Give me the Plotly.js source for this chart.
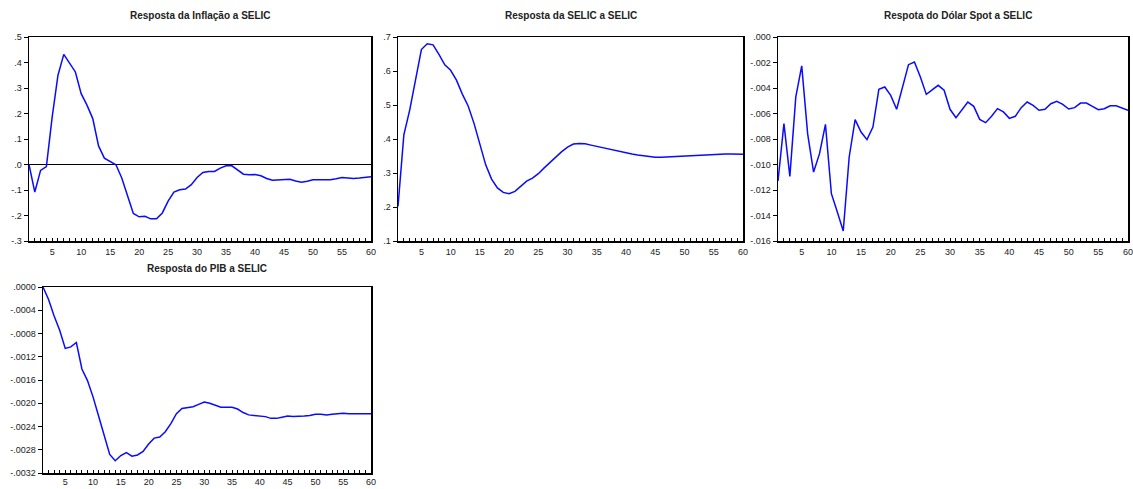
<!DOCTYPE html>
<html>
<head>
<meta charset="utf-8">
<script src="https://cdn.plot.ly/plotly-3.0.1.min.js"></script>
<style>html,body{margin:0;padding:0;background:#fff;}#chart{width:1133px;height:489px;}</style>
</head>
<body>
<div id="chart"></div>
<script>
const periods = Array.from({length: 60}, (_, i) => i + 1);
const xTickLabels = ["5","10","15","20","25","30","35","40","45","50","55","60"];

const titles = ["Resposta da Inflação a SELIC", "Resposta da SELIC a SELIC", "Respota do Dólar Spot a SELIC", "Resposta do PIB a SELIC"];

const inflacao = [0.0,-0.108,-0.023,-0.008,0.187,0.35,0.432,0.395,0.363,0.278,0.233,0.18,0.073,0.025,0.012,-0.001,-0.053,-0.125,-0.192,-0.205,
  -0.203,-0.213,-0.213,-0.19,-0.144,-0.108,-0.099,-0.096,-0.079,-0.051,-0.031,-0.027,-0.027,-0.014,-0.005,-0.005,-0.021,-0.038,-0.04,-0.039,
  -0.044,-0.055,-0.062,-0.061,-0.06,-0.058,-0.065,-0.07,-0.066,-0.06,-0.06,-0.061,-0.06,-0.056,-0.051,-0.053,-0.055,-0.053,-0.051,-0.048];

const selic = [0.202,0.412,0.485,0.573,0.663,0.680,0.677,0.649,0.618,0.602,0.573,0.532,0.497,0.446,0.383,0.324,0.282,0.256,0.243,0.239,
  0.246,0.261,0.276,0.285,0.298,0.315,0.332,0.349,0.363,0.376,0.385,0.387,0.386,0.382,0.378,0.375,0.371,0.366,0.362,0.359,
  0.356,0.353,0.350,0.348,0.346,0.346,0.347,0.348,0.349,0.350,0.351,0.353,0.354,0.354,0.355,0.356,0.356,0.356,0.356,0.355];

const dolar = [-0.01129,-0.0068,-0.01093,-0.0047,-0.00227,-0.0076,-0.01059,-0.00915,-0.00685,-0.01229,-0.01373,-0.01522,-0.00941,-0.00648,-0.00745,-0.00805,-0.00706,-0.0041,-0.00392,-0.00458,
  -0.00567,-0.00392,-0.00217,-0.00196,-0.00314,-0.0045,-0.00413,-0.00379,-0.00418,-0.00567,-0.00633,-0.00575,-0.0051,-0.00544,-0.00646,-0.00672,-0.00622,-0.00562,-0.00588,-0.00638,
  -0.00622,-0.00554,-0.0051,-0.00536,-0.00575,-0.00567,-0.00523,-0.00505,-0.00528,-0.00565,-0.00554,-0.00518,-0.00518,-0.00544,-0.0057,-0.00562,-0.00539,-0.00539,-0.0056,-0.00575];

const pib = [0.0,-0.000216,-0.0005,-0.000745,-0.001057,-0.00103,-0.000955,-0.00141,-0.00161,-0.00189,-0.00222,-0.00253,-0.00288,-0.00299,-0.0029,-0.00285,-0.00291,-0.00289,-0.00283,-0.0027,
  -0.0026,-0.00258,-0.00249,-0.00235,-0.00218,-0.00209,-0.00207,-0.00206,-0.00202,-0.00198,-0.002,-0.00204,-0.00207,-0.00207,-0.00207,-0.0021,-0.00216,-0.0022,-0.00221,-0.00221,
  -0.00223,-0.00226,-0.00226,-0.00224,-0.00222,-0.00223,-0.00223,-0.00222,-0.00221,-0.00219,-0.00219,-0.0022,-0.00219,-0.00218,-0.00217,-0.00218,-0.00218,-0.00218,-0.00218,-0.00218];

const yTicks1 = [0.5,0.4,0.3,0.2,0.1,0.0,-0.1,-0.2,-0.3];
const yText1 = [".5",".4",".3",".2",".1",".0","-.1","-.2","-.3"];
const yTicks2 = [0.7,0.6,0.5,0.4,0.3,0.2,0.1];
const yText2 = [".7",".6",".5",".4",".3",".2",".1"];
const yTicks3 = [0,-0.002,-0.004,-0.006,-0.008,-0.010,-0.012,-0.014,-0.016];
const yText3 = [".000","-.002","-.004","-.006","-.008","-.010","-.012","-.014","-.016"];
const yTicks4 = [0,-0.0004,-0.0008,-0.0012,-0.0016,-0.0020,-0.0024,-0.0028,-0.0032];
const yText4 = [".0000","-.0004","-.0008","-.0012","-.0016","-.0020","-.0024","-.0028","-.0032"];

const W = 1133, H = 489;
const font = "Liberation Sans, Arial, sans-serif";
const xt = periods.map(p => xTickLabels.includes(String(p)) ? String(p) : "");

function px(a, b) { return [a / W, b / W]; }
function py(top, bottom) { return [1 - bottom / H, 1 - top / H]; }

function xaxis(dom, anchor, standoff) {
  return {domain: dom, anchor: anchor, range: [1, 60], tickvals: periods, ticktext: xt,
    ticks: "inside", ticklen: 3, tickwidth: 1, tickcolor: "#000", showgrid: false, zeroline: false,
    showline: true, mirror: true, linecolor: "#000", linewidth: 1.5,
    ticklabeloverflow: "allow", ticklabelstandoff: standoff,
    tickfont: {family: font, size: 9, color: "#222"}, fixedrange: true};
}
function yaxis(dom, anchor, range, tv, tt, zl) {
  return {domain: dom, anchor: anchor, range: range, tickvals: tv, ticktext: tt,
    ticks: "outside", ticklen: 4, tickwidth: 1, tickcolor: "#000", showgrid: false,
    zeroline: zl, zerolinecolor: "#000", zerolinewidth: 1,
    showline: true, mirror: true, linecolor: "#000", linewidth: 1.5,
    ticklabeloverflow: "allow",
    tickfont: {family: font, size: 9, color: "#222"}, fixedrange: true};
}

const line = {color: "#0a0aff", width: 1.5};
const traces = [
  {x: periods, y: inflacao, xaxis: "x", yaxis: "y", mode: "lines", line: line, hoverinfo: "skip"},
  {x: periods, y: selic, xaxis: "x2", yaxis: "y2", mode: "lines", line: line, hoverinfo: "skip"},
  {x: periods, y: dolar, xaxis: "x3", yaxis: "y3", mode: "lines", line: line, hoverinfo: "skip"},
  {x: periods, y: pib, xaxis: "x4", yaxis: "y4", mode: "lines", line: line, hoverinfo: "skip"}
];

const topRow = py(37, 241);
const botRow = py(287, 473);

const titleFont = {family: font, size: 10, color: "#222"};
function ann(text, xc, yc) {
  return {text: "<b>" + text + "</b>", x: xc / W, y: 1 - yc / H, xref: "paper", yref: "paper",
    xanchor: "center", yanchor: "middle", showarrow: false, font: titleFont};
}

const layout = {
  width: W, height: H, showlegend: false,
  margin: {l: 0, r: 0, t: 0, b: 0},
  paper_bgcolor: "#fff", plot_bgcolor: "#fff",
  xaxis: xaxis(px(29, 371), "y", 2),
  yaxis: yaxis(topRow, "x", [-0.3, 0.5], yTicks1, yText1, true),
  xaxis2: xaxis(px(398, 743), "y2", 2),
  yaxis2: yaxis(topRow, "x2", [0.1, 0.7], yTicks2, yText2, false),
  xaxis3: xaxis(px(778, 1128), "y3", 2),
  yaxis3: yaxis(topRow, "x3", [-0.016, 0], yTicks3, yText3, false),
  xaxis4: xaxis(px(43, 371), "y4", 0),
  yaxis4: yaxis(botRow, "x4", [-0.0032, 0], yTicks4, yText4, false),
  annotations: [
    ann(titles[0], 200, 15),
    ann(titles[1], 571, 15),
    ann(titles[2], 958, 15),
    ann(titles[3], 207, 268)
  ]
};

Plotly.newPlot("chart", traces, layout, {displayModeBar: false, staticPlot: true});
</script>
</body>
</html>
